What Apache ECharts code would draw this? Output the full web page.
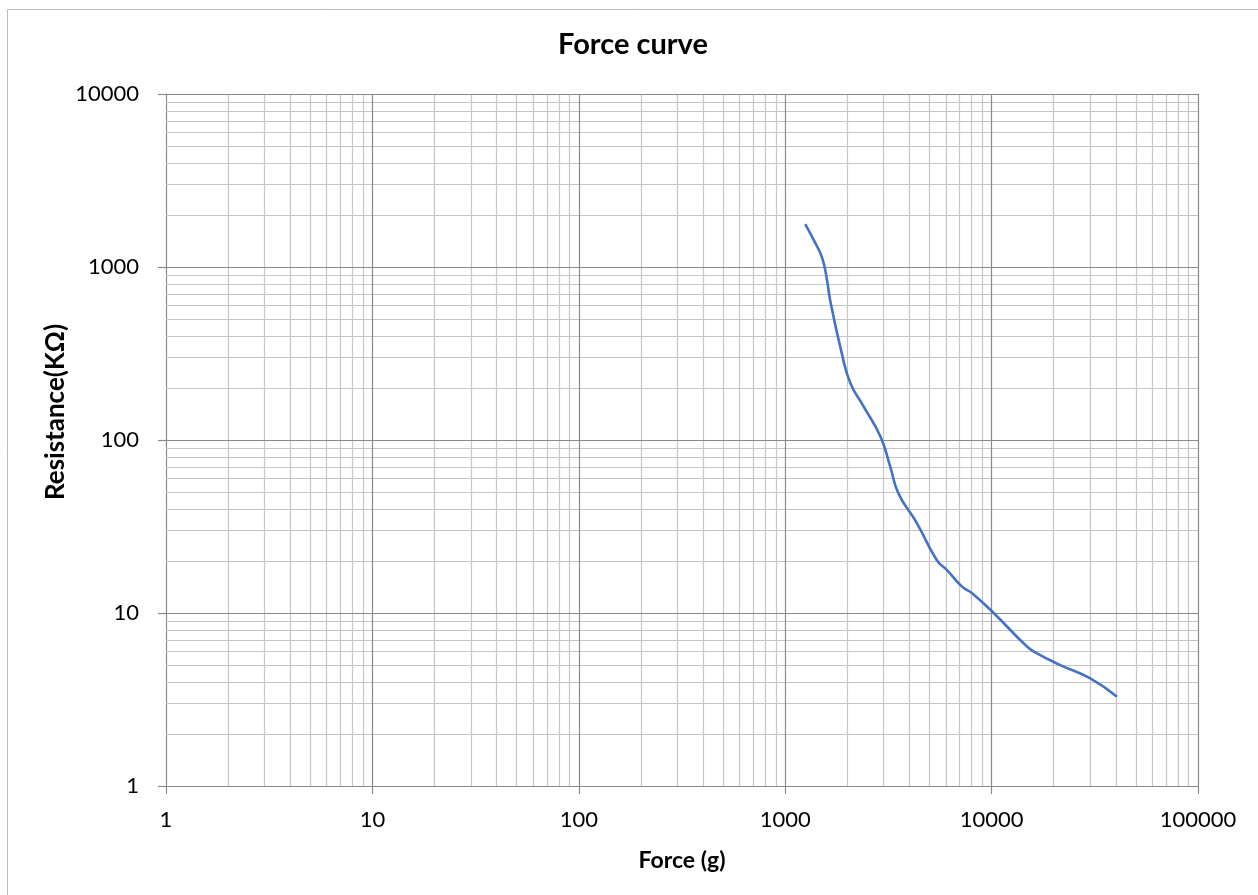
<!DOCTYPE html>
<html><head><meta charset="utf-8">
<script src="https://cdn.jsdelivr.net/npm/echarts@6/dist/echarts.min.js"></script>
<style>html,body{margin:0;padding:0;background:#fff}#c{width:1258px;height:895px}</style>
</head><body><div id="c"></div>
<script>
// Data
const forceG = [1250, 1380, 1510, 1594, 1650, 1880, 2070, 2400, 2890, 3230, 3540, 4350, 5430, 6080, 7190, 8040, 10230, 14840, 16590, 21530, 30070, 40470];
const resistanceK = [1770, 1420, 1130, 841, 645, 317, 213, 156, 105, 70, 49, 33, 20.2, 17.7, 14.2, 13.0, 10.0, 6.4, 5.85, 5.0, 4.19, 3.28];
const xMajor = [1, 10, 100, 1000, 10000, 100000];
const yMajor = [1, 10, 100, 1000, 10000];
const xMinor = [2,3,4,5,6,7,8,9, 20,30,40,50,60,70,80,90, 200,300,400,500,600,700,800,900, 2000,3000,4000,5000,6000,7000,8000,9000, 20000,30000,40000,50000,60000,70000,80000,90000];
const yMinor = [2,3,4,5,6,7,8,9, 20,30,40,50,60,70,80,90, 200,300,400,500,600,700,800,900, 2000,3000,4000,5000,6000,7000,8000,9000];
const titleText = 'Force curve';
const xName = 'Force (g)';
const yName = 'Resistance(KΩ)';

const FONT = 'Lato, "Open Sans", sans-serif';
const chart = echarts.init(document.getElementById('c'));

function gridLines(xs, ys, color, z) {
  return {
    type: 'line', data: [], z: z, silent: true, animation: false,
    markLine: {
      silent: true, animation: false, symbol: ['none', 'none'],
      label: { show: false },
      lineStyle: { color: color, width: 1.2, type: 'solid' },
      emphasis: { disabled: true },
      data: xs.map(v => ({ xAxis: v })).concat(ys.map(v => ({ yAxis: v })))
    }
  };
}

chart.setOption({
  animation: false,
  backgroundColor: '#fff',
  grid: { left: 166, right: 60, top: 94, bottom: 109, containLabel: false },
  xAxis: {
    type: 'log', logBase: 10, min: 1, max: 100000,
    axisLine: { show: true, lineStyle: { color: '#8a8a8a', width: 1.2 } },
    axisTick: { show: true, inside: false, length: 8, lineStyle: { color: '#8a8a8a', width: 1.2 } },
    splitLine: { show: false },
    minorTick: { show: false },
    axisLabel: { margin: 23, fontFamily: FONT, fontSize: 22, color: '#000',
      formatter: v => String(Math.round(v)) }
  },
  yAxis: {
    type: 'log', logBase: 10, min: 1, max: 10000,
    axisLine: { show: true, lineStyle: { color: '#8a8a8a', width: 1.2 } },
    axisTick: { show: true, inside: false, length: 8, lineStyle: { color: '#8a8a8a', width: 1.2 } },
    splitLine: { show: false },
    minorTick: { show: false },
    axisLabel: { margin: 27, fontFamily: FONT, fontSize: 22, color: '#000',
      formatter: v => String(Math.round(v)) }
  },
  series: [
    gridLines(xMinor, yMinor, '#c6c6c6', 1),
    gridLines(xMajor.slice(1), yMajor.slice(1), '#8a8a8a', 2),
    {
      type: 'line', z: 5, smooth: 0.5, showSymbol: false, symbol: 'none',
      data: forceG.map((f, i) => [f, resistanceK[i]]),
      lineStyle: { color: '#4472C4', width: 2.6 }
    }
  ],
  graphic: [
    { type: 'rect', left: 5, top: 7, shape: { width: 1400, height: 1000 }, style: { fill: 'none', stroke: '#bdbdbd', lineWidth: 1 }, z: -10, silent: true },
    { type: 'text', x: 633, y: 45, style: { text: titleText, font: 'bold 29px ' + FONT, fill: '#000', textAlign: 'center', textVerticalAlign: 'middle' } },
    { type: 'text', x: 682, y: 861, style: { text: xName, font: 'bold 23px ' + FONT, fill: '#000', textAlign: 'center', textVerticalAlign: 'middle' } },
    { type: 'text', x: 56, y: 412, rotation: Math.PI / 2, style: { text: yName, font: 'bold 26px ' + FONT, fill: '#000', textAlign: 'center', textVerticalAlign: 'middle' } }
  ]
});
</script>
</body></html>
